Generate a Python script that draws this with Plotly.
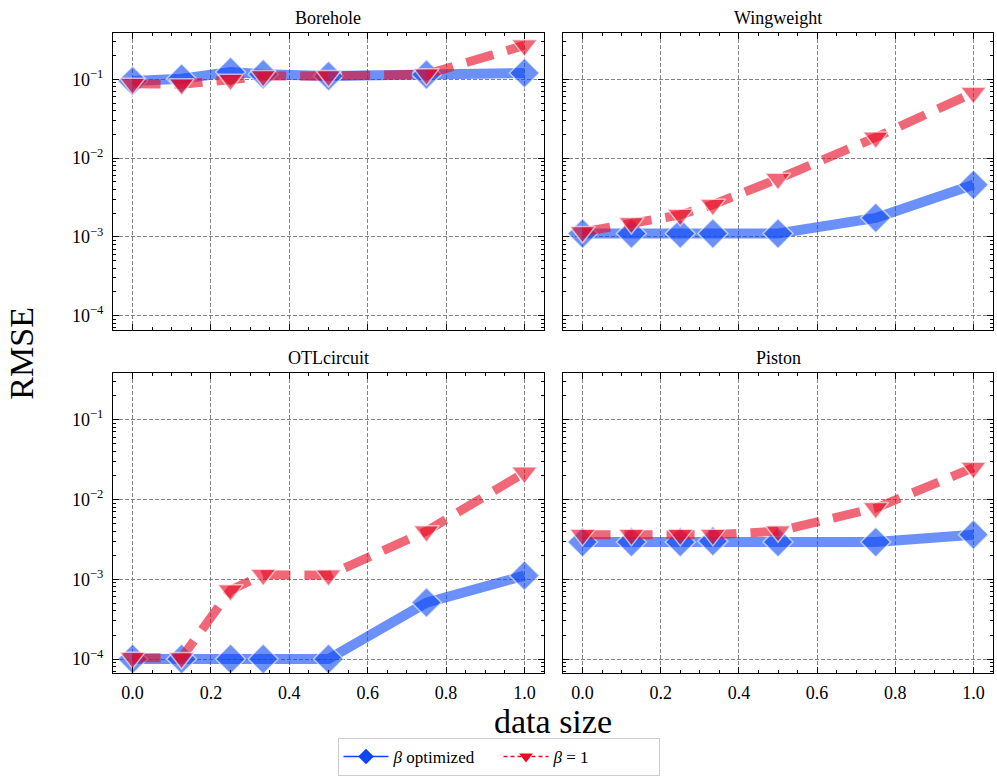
import plotly.graph_objects as go

# Fraction of the training data used
data_size = [0.0, 0.125, 0.25, 1 / 3, 0.5, 0.75, 1.0]

borehole_opt = [0.095, 0.102, 0.124, 0.116, 0.110, 0.115, 0.120]
borehole_b1 = [0.088, 0.0865, 0.099, 0.110, 0.110, 0.1156, 0.27]

wingweight_opt = [0.0011, 0.0011, 0.0011, 0.0011, 0.0011, 0.00174, 0.00457]
wingweight_b1 = [0.00115, 0.0015, 0.0019, 0.00256, 0.00545, 0.0183, 0.0676]

otl_opt = [0.0001, 0.0001, 0.0001, 0.0001, 0.0001, 0.00051, 0.00111]
otl_b1 = [0.000104, 0.000103, 0.00073, 0.00114, 0.00112, 0.0040, 0.0217]

piston_opt = [0.00292, 0.00292, 0.00292, 0.0030, 0.00292, 0.00292, 0.00362]
piston_b1 = [0.0036, 0.0036, 0.0036, 0.0036, 0.0040, 0.0078, 0.025]

panel_titles = ["Borehole", "Wingweight", "OTLcircuit", "Piston"]
series_opt = [borehole_opt, wingweight_opt, otl_opt, piston_opt]
series_b1 = [borehole_b1, wingweight_b1, otl_b1, piston_b1]

legend_names = ["<i>β</i> optimized", "<i>β</i> = 1"]
x_title = "data size"
y_title = "RMSE"

x_ticks = [0, 0.2, 0.4, 0.6, 0.8, 1.0]
x_tick_text = ["0.0", "0.2", "0.4", "0.6", "0.8", "1.0"]

BLUE = (10, 70, 245)
RED = (230, 12, 35)
FONT = "Liberation Serif"


def rgba(c, a):
    return f"rgba({c[0]},{c[1]},{c[2]},{a})"


# panel domains in paper coordinates
W, H = 997, 776
x_doms = [(113 / W, 544 / W), (563 / W, 993 / W)]
y_doms = [(1 - 331 / H, 1 - 33 / H), (1 - 676 / H, 1 - 374 / H)]

major_y = [10 ** k for k in range(-4, 0)]
major_y_text = [f"10<sup>−{abs(k)}</sup>" for k in range(-4, 0)]
minor_y = [m * 10 ** k for k in range(-5, 1) for m in range(2, 10)]

fig = go.Figure()
layout = {}

for i in range(4):
    row, col = divmod(i, 2)
    n = i + 1
    xa = "x" if n == 1 else f"x{n}"
    ya = "y" if n == 1 else f"y{n}"

    fig.add_trace(go.Scatter(
        x=data_size, y=series_opt[i], mode="lines+markers",
        line=dict(color=rgba(BLUE, 0.6), width=10),
        marker=dict(symbol="diamond", size=23, color=rgba(BLUE, 0.6),
                    line=dict(color="rgba(255,255,255,0.6)", width=1.5)),
        xaxis=xa, yaxis=ya, showlegend=False,
    ))
    fig.add_trace(go.Scatter(
        x=data_size, y=series_b1[i], mode="lines+markers",
        line=dict(color=rgba(RED, 0.62), width=9, dash="28px,14px"),
        marker=dict(symbol="triangle-down", size=22, color=rgba(RED, 0.62),
                    line=dict(color="rgba(255,255,255,0.6)", width=1.5)),
        xaxis=xa, yaxis=ya, showlegend=False,
    ))

    common = dict(
        showline=True, linecolor="black", linewidth=1, mirror="ticks",
        ticks="inside", ticklen=6, tickcolor="black", tickwidth=1,
        showgrid=True, gridcolor="rgba(110,110,110,0.85)", gridwidth=0.8,
        griddash="4px,2px", zeroline=False,
        tickfont=dict(family=FONT, size=18, color="black"),
    )
    layout[xa.replace("x", "xaxis")] = dict(
        common, domain=x_doms[col], anchor=ya, range=[-0.05, 1.05],
        tickmode="array", tickvals=x_ticks, ticktext=x_tick_text,
        showticklabels=(row == 1), ticklabelstandoff=3,
        minor=dict(ticks="inside", ticklen=3, tickcolor="black",
                   tickmode="linear", tick0=0, dtick=0.05, showgrid=False),
    )
    layout[ya.replace("y", "yaxis")] = dict(
        common, domain=y_doms[row], anchor=xa, type="log",
        range=[-4.18, -0.41], tickmode="array", tickvals=major_y,
        ticktext=major_y_text, showticklabels=(col == 0),
        ticklabelstandoff=5,
        minor=dict(ticks="inside", ticklen=3, tickcolor="black",
                   tickmode="array", tickvals=minor_y, showgrid=False),
    )

# legend-only entries with thin lines and small, solid markers
fig.add_trace(go.Scatter(
    x=[None], y=[None], mode="lines+markers", name=legend_names[0],
    line=dict(color=rgba(BLUE, 1), width=1.6),
    marker=dict(symbol="diamond", size=12, color=rgba(BLUE, 1)),
))
fig.add_trace(go.Scatter(
    x=[None], y=[None], mode="lines+markers", name=legend_names[1],
    line=dict(color=rgba(RED, 1), width=1.6, dash="4px,3px"),
    marker=dict(symbol="triangle-down", size=12, color=rgba(RED, 1)),
))

annotations = []
for i, title in enumerate(panel_titles):
    row, col = divmod(i, 2)
    xc = (x_doms[col][0] + x_doms[col][1]) / 2
    annotations.append(dict(
        text=title, x=xc, y=y_doms[row][1] + 3 / H, xref="paper", yref="paper",
        xanchor="center", yanchor="bottom", showarrow=False,
        font=dict(family=FONT, size=18, color="black", weight="normal"),
    ))
annotations.append(dict(
    text=x_title, x=(x_doms[0][0] + x_doms[1][1]) / 2, y=1 - 724 / H,
    xref="paper", yref="paper", xanchor="center", yanchor="middle",
    showarrow=False, font=dict(family=FONT, size=34, color="black"),
))
annotations.append(dict(
    text=y_title, x=22 / W, y=1 - 355 / H, xref="paper", yref="paper",
    xanchor="center", yanchor="middle", textangle=-90, showarrow=False,
    font=dict(family=FONT, size=34, color="black"),
))

fig.update_layout(
    width=W, height=H,
    margin=dict(l=0, r=0, t=0, b=0),
    paper_bgcolor="white", plot_bgcolor="white",
    showlegend=True,
    legend=dict(
        orientation="h", x=0.5, xanchor="center", y=1 - 741 / H, yanchor="top",
        bordercolor="#cccccc", borderwidth=1, bgcolor="white",
        font=dict(family=FONT, size=17, color="black"),
        itemwidth=45, entrywidth=100,
    ),
    annotations=annotations,
    **layout,
)

fig.write_html("out.html")
